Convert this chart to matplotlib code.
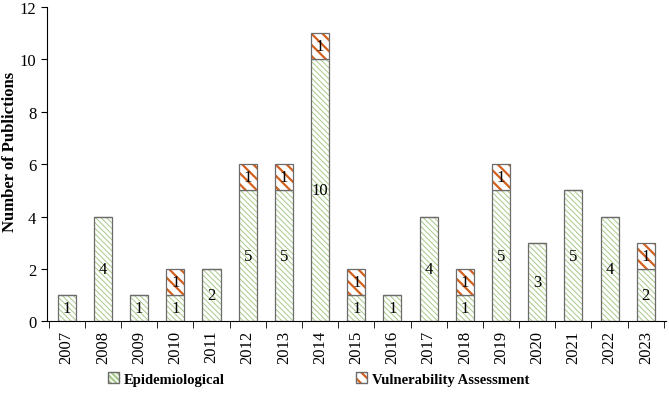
import matplotlib.pyplot as plt
import numpy as np
from matplotlib.patches import Patch

plt.rcParams['font.family'] = ['Liberation Serif', 'DejaVu Serif']

years = ['2007', '2008', '2009', '2010', '2011', '2012', '2013', '2014', '2015',
         '2016', '2017', '2018', '2019', '2020', '2021', '2022', '2023']
epidemiological = [1, 4, 1, 1, 2, 5, 5, 10, 1, 1, 4, 1, 5, 3, 5, 4, 2]
vulnerability = [0, 0, 0, 1, 0, 1, 1, 1, 1, 0, 0, 1, 1, 0, 0, 0, 1]

green = (0.66, 0.79, 0.54, 1.0)
orange = (0.82, 0.38, 0.12, 1.0)
edge = '#6b6b6b'
hatch_green = '\\\\\\\\\\\\'
hatch_orange = '\\\\\\'

fig = plt.figure(figsize=(6.69, 4.02), dpi=100)
ax = fig.add_axes([0.070, 0.198, 0.925, 0.782])

x = np.arange(len(years))
w = 0.5

# verde fino
plt.rcParams['hatch.linewidth'] = 0.7
b1 = ax.bar(x, epidemiological, w, color='white', edgecolor=edge, linewidth=0.9)
for b in b1:
    b.set_hatch(hatch_green)
    b._hatch_color = green

# laranja grosso
plt.rcParams['hatch.linewidth'] = 1.6
b2 = ax.bar(x, vulnerability, w, bottom=epidemiological, color='white',
            edgecolor=edge, linewidth=0.9)
for b in b2:
    b.set_hatch(hatch_orange)
    b._hatch_color = orange

for i in range(len(years)):
    ax.text(x[i], epidemiological[i] / 2, str(epidemiological[i]),
            ha='center', va='center', fontsize=12)
    if vulnerability[i]:
        ax.text(x[i], epidemiological[i] + vulnerability[i] / 2, str(vulnerability[i]),
                ha='center', va='center', fontsize=12)

ax.set_xlim(-0.55, len(years) - 0.45)
ax.set_ylim(0, 12)
ax.set_yticks(range(0, 13, 2))
ax.set_xticks(x)
ax.set_xticklabels(years, rotation=90, fontsize=12)
ax.set_xticks(np.arange(-0.5, len(years), 1), minor=True)
ax.tick_params(axis='x', which='major', length=0, pad=6)
ax.tick_params(axis='x', which='minor', length=5, direction='out')
ax.tick_params(axis='y', labelsize=12, length=4, direction='out')
ax.spines['top'].set_visible(False)
ax.spines['right'].set_visible(False)
fig.text(10 / 669, 1 - 152 / 402, 'Number of Publictions', rotation=90,
         ha='center', va='center', fontsize=12, fontweight='bold')

plt.rcParams['hatch.linewidth'] = 0.7
h1 = Patch(facecolor='white', edgecolor=edge, hatch=hatch_green, label='Epidemiological')
h1._hatch_color = green
plt.rcParams['hatch.linewidth'] = 1.6
h2 = Patch(facecolor='white', edgecolor=edge, hatch=hatch_orange, label='Vulnerability Assessment')
h2._hatch_color = orange
leg = fig.legend(handles=[h1, h2], loc='center', bbox_to_anchor=(0.476, 0.055), ncol=2,
                 frameon=False, handlelength=0.75, handleheight=0.75, handletextpad=0.35,
                 columnspacing=9.0, prop={'weight': 'bold', 'size': 10.5})

fig.savefig('out.png', dpi=100)
